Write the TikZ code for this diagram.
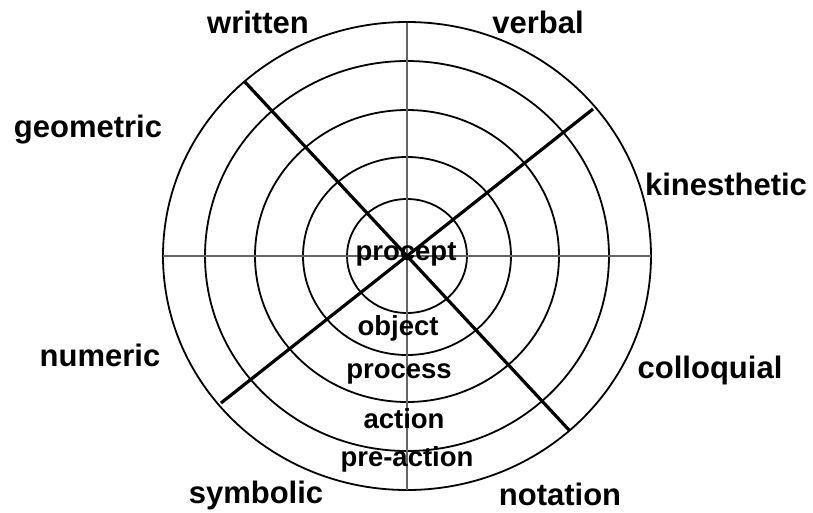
\documentclass[tikz,border=0pt]{standalone}
\usepackage{fontspec}
\setmainfont{Liberation Sans}
\begin{document}
\begin{tikzpicture}[
  x=1pt, y=-1pt,
  ring/.style={draw, line width=1.8pt},
  axis/.style={draw=black!60, line width=2.2pt},
  cut/.style={draw, line width=3.2pt},
  side/.style={font=\bfseries\fontsize{31}{31}\selectfont, anchor=base, inner sep=0pt},
  level/.style={font=\bfseries\fontsize{27.5}{27.5}\selectfont, anchor=base, inner sep=0pt}
]
\useasboundingbox (0,0) rectangle (813,512);
\coordinate (c) at (407,256);
% rings
\foreach \r/\s in {60/57,104/99,152/146,202/195,244/234}
  \draw[ring] (c) ellipse [x radius=\r pt, y radius=\s pt];
% axes
\coordinate (n) at (407,23);
\coordinate (s) at (407,490);
\coordinate (w) at (163,256);
\coordinate (e) at (651,256);
\draw[axis] (n) -- (s);
\draw[axis] (w) -- (e);
% diagonals
\coordinate (nw) at (245,82);
\coordinate (se) at (569,430);
\coordinate (ne) at (593,109);
\coordinate (sw) at (221,403);
\draw[cut] (nw) -- (se);
\draw[cut] (ne) -- (sw);
% outer labels
\node[side] (written) at (258,33) {written};
\node[side] (verbal) at (538,33) {verbal};
\node[side] (geometric) at (88,137) {geometric};
\node[side] (kinesthetic) at (726,195) {kinesthetic};
\node[side] (numeric) at (100,366) {numeric};
\node[side] (colloquial) at (710,378) {colloquial};
\node[side] (symbolic) at (256,503) {symbolic};
\node[side] (notation) at (560,505) {notation};
% levels
\node[level] (procept) at (406,260) {procept};
\node[level] (object) at (398,335) {object};
\node[level] (process) at (399,378) {process};
\node[level] (action) at (404,428) {action};
\node[level] (preaction) at (407,466) {pre-action};
\end{tikzpicture}
\end{document}
